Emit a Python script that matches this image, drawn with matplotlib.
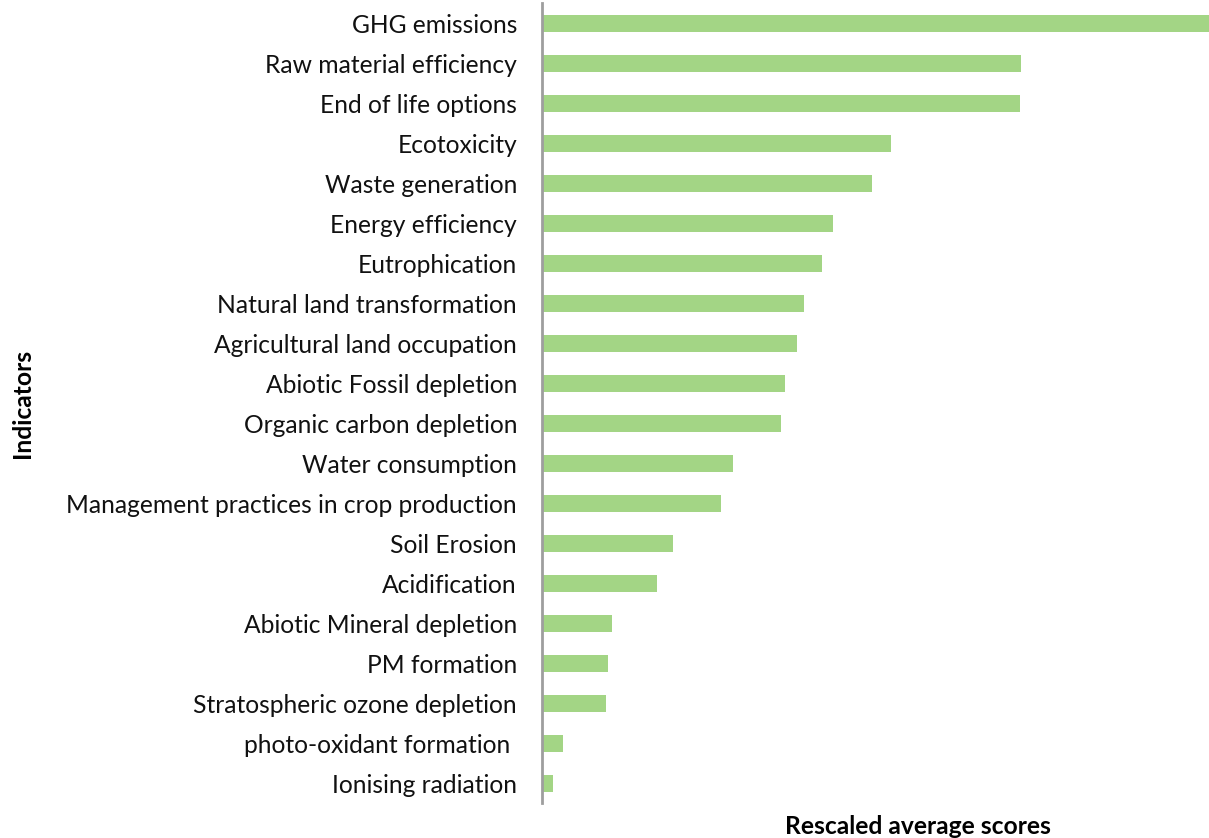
import matplotlib.pyplot as plt

indicators = [
    "GHG emissions", "Raw material efficiency", "End of life options", "Ecotoxicity",
    "Waste generation", "Energy efficiency", "Eutrophication", "Natural land transformation",
    "Agricultural land occupation", "Abiotic Fossil depletion", "Organic carbon depletion",
    "Water consumption", "Management practices in crop production", "Soil Erosion",
    "Acidification", "Abiotic Mineral depletion", "PM formation",
    "Stratospheric ozone depletion", "photo-oxidant formation ", "Ionising radiation",
]
scores = [1.000, 0.718, 0.717, 0.523, 0.495, 0.437, 0.420, 0.393, 0.382, 0.364,
          0.358, 0.286, 0.268, 0.196, 0.172, 0.105, 0.099, 0.096, 0.031, 0.016]

plt.rcParams['font.family'] = ['Lato', 'DejaVu Sans']

fig = plt.figure(figsize=(12.09, 8.38), dpi=100)
ax = fig.add_axes([542/1209, 1 - 803.5/838, 1 - 542/1209, 800/838])

ypos = list(range(len(indicators)))
ax.barh(ypos, scores, height=0.43, color='#A3D585')
ax.set_ylim(len(indicators) - 0.5, -0.5)
ax.set_xlim(0, 1.0)
ax.set_yticks(ypos)
ax.set_yticklabels(indicators, fontsize=17.7, color='#111111')
ax.tick_params(axis='y', length=0, pad=18)
ax.set_xticks([])
for s in ['top', 'right', 'bottom']:
    ax.spines[s].set_visible(False)
ax.spines['left'].set_color('#9E9E9E')
ax.spines['left'].set_linewidth(2)

fig.text(918/1209, 1 - 826/838, "Rescaled average scores", ha='center', va='center',
         fontsize=17.7, fontweight='bold')
fig.text(22/1209, 1 - 403/838, "Indicators", ha='center', va='center', rotation=90,
         fontsize=17.7, fontweight='bold')

fig.savefig('out.png', dpi=100)
